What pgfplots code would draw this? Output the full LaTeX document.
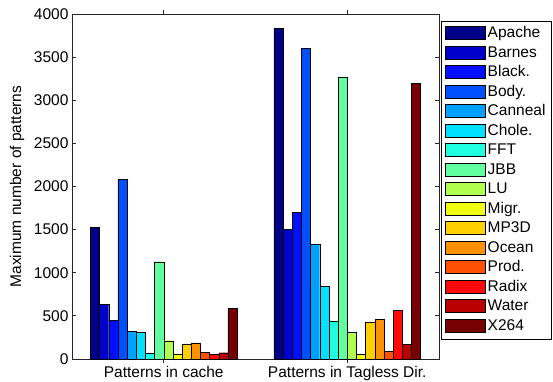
\documentclass[border=0pt]{standalone}
\usepackage{fontspec}
\setmainfont{Liberation Sans}
\usepackage{pgfplots}
\usepackage{pgfplotstable}
\pgfplotsset{compat=1.18}
\definecolor{c1}{HTML}{000088}
\definecolor{c2}{HTML}{0000CC}
\definecolor{c3}{HTML}{0010FF}
\definecolor{c4}{HTML}{0050FF}
\definecolor{c5}{HTML}{00A0FF}
\definecolor{c6}{HTML}{00E0FF}
\definecolor{c7}{HTML}{20FFE0}
\definecolor{c8}{HTML}{60FFA0}
\definecolor{c9}{HTML}{B0FF50}
\definecolor{c10}{HTML}{F0FF10}
\definecolor{c11}{HTML}{FFD000}
\definecolor{c12}{HTML}{FF9000}
\definecolor{c13}{HTML}{FF5000}
\definecolor{c14}{HTML}{FF0808}
\definecolor{c15}{HTML}{BB0000}
\definecolor{c16}{HTML}{770000}
\pgfplotstableread{
x Apache Barnes Black Body Canneal Chole FFT JBB LU Migr MP3D Ocean Prod Radix Water X264
1 1527 634 452 2087 317 309 66 1128 212 50 174 186 77 58 73 588
2 3834 1503 1700 3602 1333 843 433 3270 305 54 429 456 89 565 166 3200
}\data
\pgfplotsset{
  mybar/.style={fill=#1, draw=black, line width=0.4pt,
    legend image code/.code={\draw[fill=#1, draw=black, line width=0.5pt] (0pt,-6pt) rectangle (40pt,7pt);}},
}
\begin{document}
\begin{tikzpicture}[font=\fontsize{15.5}{18}\selectfont]
\path[use as bounding box] (0,0) rectangle (553pt,381pt);
\begin{axis}[
  at={(72pt,22pt)}, anchor=south west,
  scale only axis, width=367pt, height=345pt,
  xmin=0.5, xmax=2.5, ymin=0, ymax=4000,
  ytick={0,500,...,4000},
  xtick={1,2},
  xticklabels={Patterns in cache, Patterns in Tagless Dir.},
  tick align=inside, tick pos=both,
  major tick length=4pt,
  axis line style={line width=1pt, draw=black!85},
  every tick/.style={black!85, line width=0.8pt},
  ylabel={Maximum number of patterns},
  ylabel style={at={(axis description cs:-0.1495,0.5)}, anchor=center},
  ybar, bar width=0.05,
  /pgf/number format/1000 sep={},
  /pgf/number format/assume math mode=true,
  legend style={at={(1.005,0.981)}, anchor=north west, draw=black, line width=0.8pt,
    inner xsep=3.5pt, inner ysep=3pt,
    nodes={text height=11.5pt, text depth=3pt, inner sep=2.5pt}},
  legend cell align=left,
  legend entries={Apache,Barnes,Black.,Body.,Canneal,Chole.,FFT,JBB,LU,Migr.,MP3D,Ocean,Prod.,Radix,Water,X264},
]
\addplot[mybar=c1, bar shift=-0.375] table[x=x,y=Apache]{\data};
\addplot[mybar=c2, bar shift=-0.325] table[x=x,y=Barnes]{\data};
\addplot[mybar=c3, bar shift=-0.275] table[x=x,y=Black]{\data};
\addplot[mybar=c4, bar shift=-0.225] table[x=x,y=Body]{\data};
\addplot[mybar=c5, bar shift=-0.175] table[x=x,y=Canneal]{\data};
\addplot[mybar=c6, bar shift=-0.125] table[x=x,y=Chole]{\data};
\addplot[mybar=c7, bar shift=-0.075] table[x=x,y=FFT]{\data};
\addplot[mybar=c8, bar shift=-0.025] table[x=x,y=JBB]{\data};
\addplot[mybar=c9, bar shift=0.025] table[x=x,y=LU]{\data};
\addplot[mybar=c10, bar shift=0.075] table[x=x,y=Migr]{\data};
\addplot[mybar=c11, bar shift=0.125] table[x=x,y=MP3D]{\data};
\addplot[mybar=c12, bar shift=0.175] table[x=x,y=Ocean]{\data};
\addplot[mybar=c13, bar shift=0.225] table[x=x,y=Prod]{\data};
\addplot[mybar=c14, bar shift=0.275] table[x=x,y=Radix]{\data};
\addplot[mybar=c15, bar shift=0.325] table[x=x,y=Water]{\data};
\addplot[mybar=c16, bar shift=0.375] table[x=x,y=X264]{\data};
\end{axis}
\end{tikzpicture}
\end{document}
